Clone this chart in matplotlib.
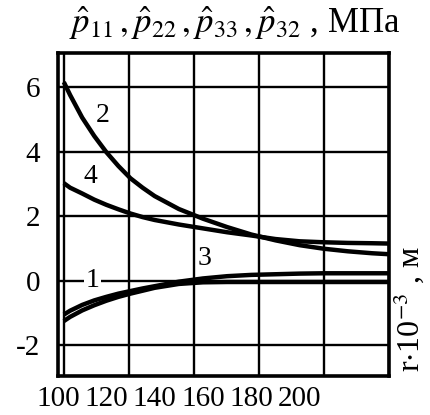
import numpy as np
import matplotlib
matplotlib.use("Agg")
import matplotlib.pyplot as plt

plt.rcParams['font.family'] = ['Liberation Serif', 'DejaVu Serif']
plt.rcParams['mathtext.fontset'] = 'stix'
plt.rcParams['axes.unicode_minus'] = False

# радиус r*10^-3, м
r = [102.4, 105, 110, 115, 120, 125, 130, 135, 140, 150, 160, 170, 180, 190, 200, 210, 220, 230, 237]

# напряжения, МПа
p_1 = [-1.25, -1.12, -0.92, -0.76, -0.62, -0.50, -0.40, -0.31, -0.22, -0.10, -0.05, -0.04,
       -0.04, -0.04, -0.04, -0.04, -0.04, -0.04, -0.04]
p_2 = [6.15, 5.75, 5.05, 4.48, 3.98, 3.55, 3.17, 2.88, 2.62, 2.22, 1.92, 1.66,
       1.43, 1.25, 1.10, 0.99, 0.91, 0.85, 0.82]
p_3 = [-1.05, -0.93, -0.75, -0.61, -0.50, -0.40, -0.32, -0.24, -0.17, -0.03, 0.07, 0.14,
       0.18, 0.20, 0.22, 0.23, 0.23, 0.23, 0.23]
p_4 = [3.02, 2.88, 2.70, 2.51, 2.35, 2.21, 2.08, 1.97, 1.88, 1.74, 1.62, 1.50,
       1.40, 1.29, 1.22, 1.19, 1.17, 1.16, 1.15]

x_ticks = [100, 120, 140, 160, 180, 200]
y_ticks = [-2, 0, 2, 4, 6]

# подписи кривых: номер, x, y
labels = [("1", 114.2, 0.0), ("2", 118.3, 5.1), ("3", 160.6, 0.7), ("4", 113.4, 3.24)]

fig = plt.figure(figsize=(4.31, 4.15), dpi=100)
ax = fig.add_axes([0.1346, 0.094, 0.7680, 0.7783])

xlo, xhi = 102.4, 237.0
ax.set_xlim(xlo, xhi)
ax.set_ylim(-2.95, 7.05)

# сетка: вертикальные линии делят поле на 5 клеток
ax.set_xticks(np.linspace(xlo, xhi, 6), minor=True)
ax.set_xticks(x_ticks)
ax.set_yticks(y_ticks)
ax.grid(True, axis='x', which='minor', color='black', lw=1.7)
ax.grid(True, axis='y', which='major', color='black', lw=1.7)
ax.tick_params(which='both', length=0, labelsize=21)
ax.tick_params(axis='x', pad=7)
ax.tick_params(axis='y', pad=13)
for s in ax.spines.values():
    s.set_linewidth(2.6)

lw = 3.2
ax.plot(r, p_1, color='black', lw=lw, solid_capstyle='butt')
ax.plot(r, p_3, color='black', lw=lw, solid_capstyle='butt')
ax.plot(r, p_2, color='black', lw=lw, solid_capstyle='butt')
ax.plot(r, p_4, color='black', lw=lw, solid_capstyle='butt')

for txt, xx, yy in labels:
    bb = dict(facecolor='white', edgecolor='none', pad=1) if txt == "1" else None
    ax.text(xx, yy, txt, fontsize=20, ha='center', va='center', bbox=bb, zorder=5)

fig.text(0.545, 0.92,
         r"$\hat{p}_{11}\,,\hat{p}_{22}\,,\hat{p}_{33}\,,\hat{p}_{32}$ , МПа",
         fontsize=25, ha='center', va='baseline')
fig.text(0.947, 0.255, r"r$\cdot$10$^{-3}$ , м", fontsize=23, rotation=90,
         ha='center', va='center')

fig.savefig("out.png", dpi=100)
